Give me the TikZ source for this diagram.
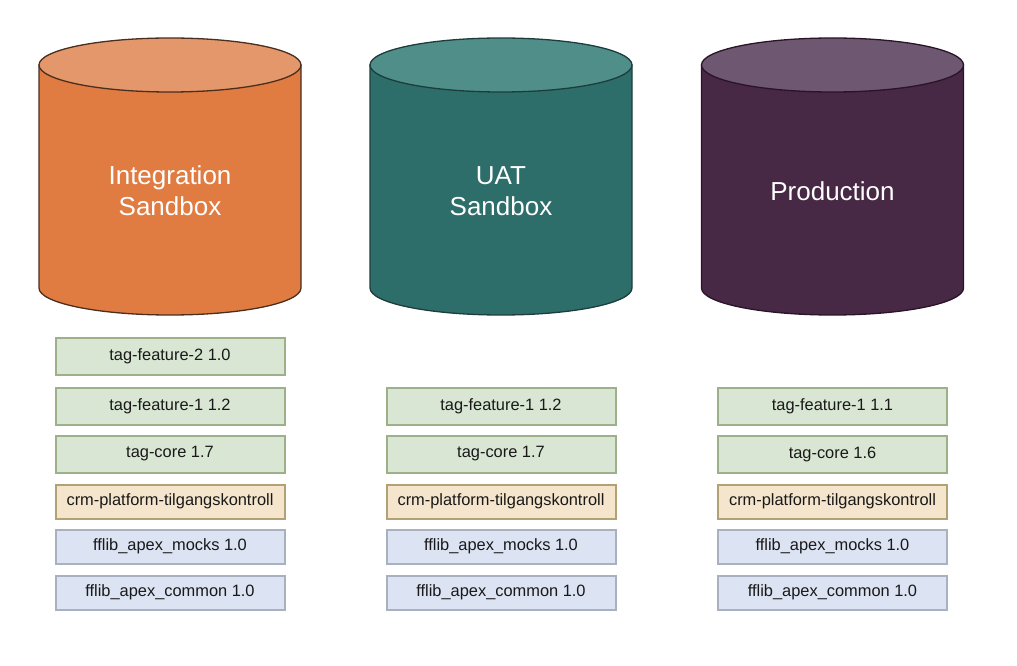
\documentclass[tikz,border=0pt]{standalone}
\usepackage{fontspec}
\setmainfont{Liberation Sans}
\definecolor{oside}{HTML}{E07C42}
\definecolor{otop}{HTML}{E3976A}
\definecolor{ostroke}{HTML}{4A2E1E}
\definecolor{tside}{HTML}{2E6E6A}
\definecolor{ttop}{HTML}{508E8A}
\definecolor{tstroke}{HTML}{1C3D3B}
\definecolor{pside}{HTML}{472845}
\definecolor{ptop}{HTML}{6E5770}
\definecolor{pstroke}{HTML}{2A1428}
\definecolor{gfill}{HTML}{D8E6D3}
\definecolor{gstroke}{HTML}{9CB08A}
\definecolor{yfill}{HTML}{F5E5CC}
\definecolor{ystroke}{HTML}{B3A176}
\definecolor{bfill}{HTML}{DCE3F2}
\definecolor{bstroke}{HTML}{A9B1C1}
\tikzset{
  pkg/.style={minimum width=229pt, inner sep=0pt, line width=2pt, font=\fontsize{16.4}{19}\selectfont, text=black!90},
  gbox/.style={pkg, draw=gstroke, fill=gfill, minimum height=37pt},
  ybox/.style={pkg, draw=ystroke, fill=yfill, minimum height=34pt},
  bbox/.style={pkg, draw=bstroke, fill=bfill, minimum height=34pt},
  cyltext/.style={text=white, align=center, font=\fontsize{26}{31}\selectfont},
}
\newcommand{\mycyl}[4]{% center x, side, top, stroke
  \path[fill=#2, draw=#4, line width=1.3pt] (#1-131,600) -- (#1-131,377) arc[start angle=180, end angle=360, x radius=131, y radius=27] -- (#1+131,600) -- cycle;
  \path[fill=#3, draw=#4, line width=1.3pt] (#1,600) ellipse[x radius=131, y radius=27];
}
\begin{document}
\begin{tikzpicture}[x=1pt,y=1pt]
\useasboundingbox (0,0) rectangle (1017,665);
\mycyl{170}{oside}{otop}{ostroke}
\mycyl{501}{tside}{ttop}{tstroke}
\mycyl{832.5}{pside}{ptop}{pstroke}
\node[cyltext] (int) at (170,474) {Integration\\Sandbox};
\node[cyltext] (uat) at (501,474) {UAT\\Sandbox};
\node[cyltext] (prod) at (832.5,474) {Production};
% column 1
\node[gbox] (a1) at (170,308.5) {tag-feature-2 1.0};
\node[gbox] (a2) at (170,259) {tag-feature-1 1.2};
\node[gbox] (a3) at (170,211) {tag-core 1.7};
\node[ybox] (a4) at (170,163.5) {crm-platform-tilgangskontroll};
\node[bbox] (a5) at (170,118.5) {fflib\_apex\_mocks 1.0};
\node[bbox] (a6) at (170,72.5) {fflib\_apex\_common 1.0};
% column 2
\node[gbox] (b2) at (501,259) {tag-feature-1 1.2};
\node[gbox] (b3) at (501,211) {tag-core 1.7};
\node[ybox] (b4) at (501,163.5) {crm-platform-tilgangskontroll};
\node[bbox] (b5) at (501,118.5) {fflib\_apex\_mocks 1.0};
\node[bbox] (b6) at (501,72.5) {fflib\_apex\_common 1.0};
% column 3
\node[gbox] (c2) at (832.5,259) {tag-feature-1 1.1};
\node[gbox] (c3) at (832.5,211) {tag-core 1.6};
\node[ybox] (c4) at (832.5,163.5) {crm-platform-tilgangskontroll};
\node[bbox] (c5) at (832.5,118.5) {fflib\_apex\_mocks 1.0};
\node[bbox] (c6) at (832.5,72.5) {fflib\_apex\_common 1.0};
\end{tikzpicture}
\end{document}
